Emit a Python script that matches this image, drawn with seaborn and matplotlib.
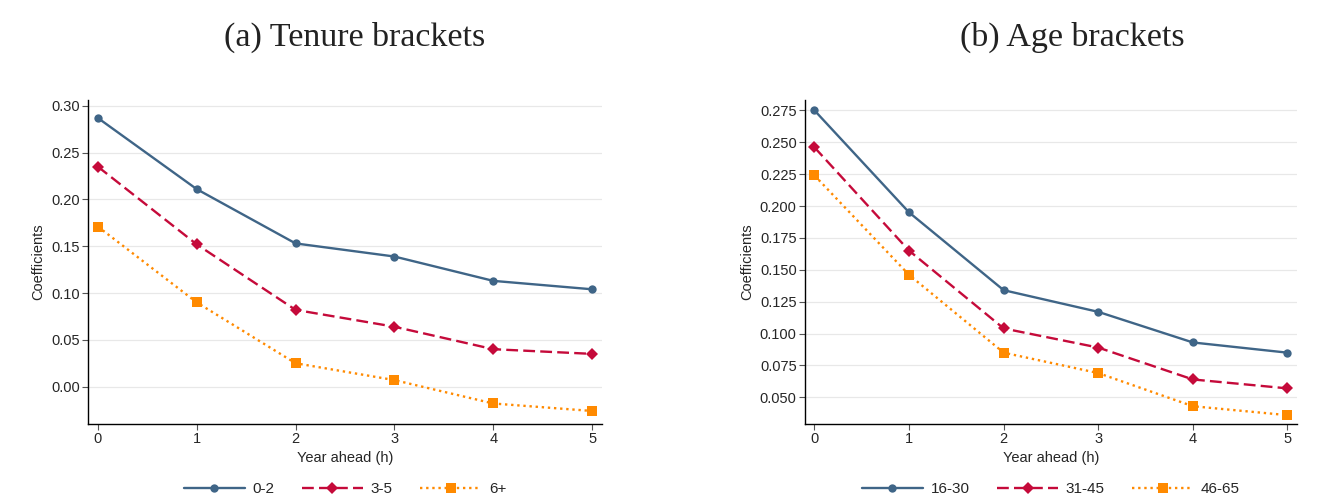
import matplotlib
matplotlib.use("Agg")
import matplotlib.pyplot as plt
import seaborn as sns
import pandas as pd

# Horizon (years ahead)
years = [0, 1, 2, 3, 4, 5]

# Panel (a): coefficients by tenure bracket
tenure_labels = ["0-2", "3-5", "6+"]
tenure_0_2 = [0.287, 0.211, 0.153, 0.139, 0.113, 0.104]
tenure_3_5 = [0.235, 0.152, 0.082, 0.064, 0.040, 0.035]
tenure_6p = [0.171, 0.090, 0.025, 0.007, -0.018, -0.026]

# Panel (b): coefficients by age bracket
age_labels = ["16-30", "31-45", "46-65"]
age_16_30 = [0.275, 0.195, 0.134, 0.117, 0.093, 0.085]
age_31_45 = [0.246, 0.165, 0.104, 0.089, 0.064, 0.057]
age_46_65 = [0.224, 0.146, 0.085, 0.069, 0.043, 0.036]

tenure_ticks = [0.00, 0.05, 0.10, 0.15, 0.20, 0.25, 0.30]
age_ticks = [0.050, 0.075, 0.100, 0.125, 0.150, 0.175, 0.200, 0.225, 0.250, 0.275]

colors = ["#3f6587", "#c50a3a", "#ff8a00"]
markers = ["o", "D", "s"]
msizes = [6, 6.5, 6.5]
dashes = [(None, None), (5, 2.2), (1.0, 1.6)]

sns.set_theme(style="white")
plt.rcParams["font.family"] = ["Liberation Sans", "DejaVu Sans"]


def long_frame(labels, series):
    rows = []
    for lab, vals in zip(labels, series):
        for x, v in zip(years, vals):
            rows.append({"h": x, "coef": v, "group": lab})
    return pd.DataFrame(rows)


fig = plt.figure(figsize=(13.35, 4.96), dpi=100)
ax1 = fig.add_axes([0.0659, 0.145, 0.385, 0.653])
ax2 = fig.add_axes([0.603, 0.145, 0.3685, 0.653])

panels = [
    (ax1, long_frame(tenure_labels, [tenure_0_2, tenure_3_5, tenure_6p]), tenure_labels,
     tenure_ticks, (-0.040, 0.306), "%.2f", "(a) Tenure brackets", 0.266),
    (ax2, long_frame(age_labels, [age_16_30, age_31_45, age_46_65]), age_labels,
     age_ticks, (0.029, 0.283), "%.3f", "(b) Age brackets", 0.803),
]

for ax, df, labels, ticks, ylim, fmt, title, tx in panels:
    for i, lab in enumerate(labels):
        sub = df[df["group"] == lab]
        sns.lineplot(data=sub, x="h", y="coef", ax=ax, color=colors[i],
                     marker=markers[i], markersize=msizes[i],
                     markeredgewidth=0, linewidth=1.7, label=lab)
        ln = ax.lines[-1]
        if dashes[i][0] is not None:
            ln.set_dashes(dashes[i])
    ax.set_xlim(-0.1, 5.1)
    ax.set_ylim(*ylim)
    ax.set_xticks(years)
    ax.set_yticks(ticks)
    ax.set_yticklabels([fmt % t for t in ticks])
    ax.yaxis.grid(True, color="#e8e8e8", linewidth=0.9)
    ax.set_axisbelow(True)
    for s in ["top", "right"]:
        ax.spines[s].set_visible(False)
    for s in ["left", "bottom"]:
        ax.spines[s].set_color("black")
        ax.spines[s].set_linewidth(1.0)
    ax.tick_params(axis="both", which="both", direction="out", length=4,
                   width=0.8, color="#555555", labelsize=10.5, pad=2,
                   left=True, bottom=True)
    ax.set_xlabel("Year ahead (h)", fontsize=10.5, labelpad=3)
    ax.set_ylabel("Coefficients", fontsize=10.5, labelpad=4)
    ax.legend(loc="center", bbox_to_anchor=(0.5, -0.2), ncol=3,
              frameon=False, fontsize=11, handlelength=4.0, borderpad=0,
              columnspacing=1.8, handletextpad=0.5)
    fig.text(tx, 0.925, title, ha="center", va="center",
             fontsize=24.5, family=["Liberation Serif", "DejaVu Serif"], color="#222222")

fig.savefig("out.png", dpi=100)
